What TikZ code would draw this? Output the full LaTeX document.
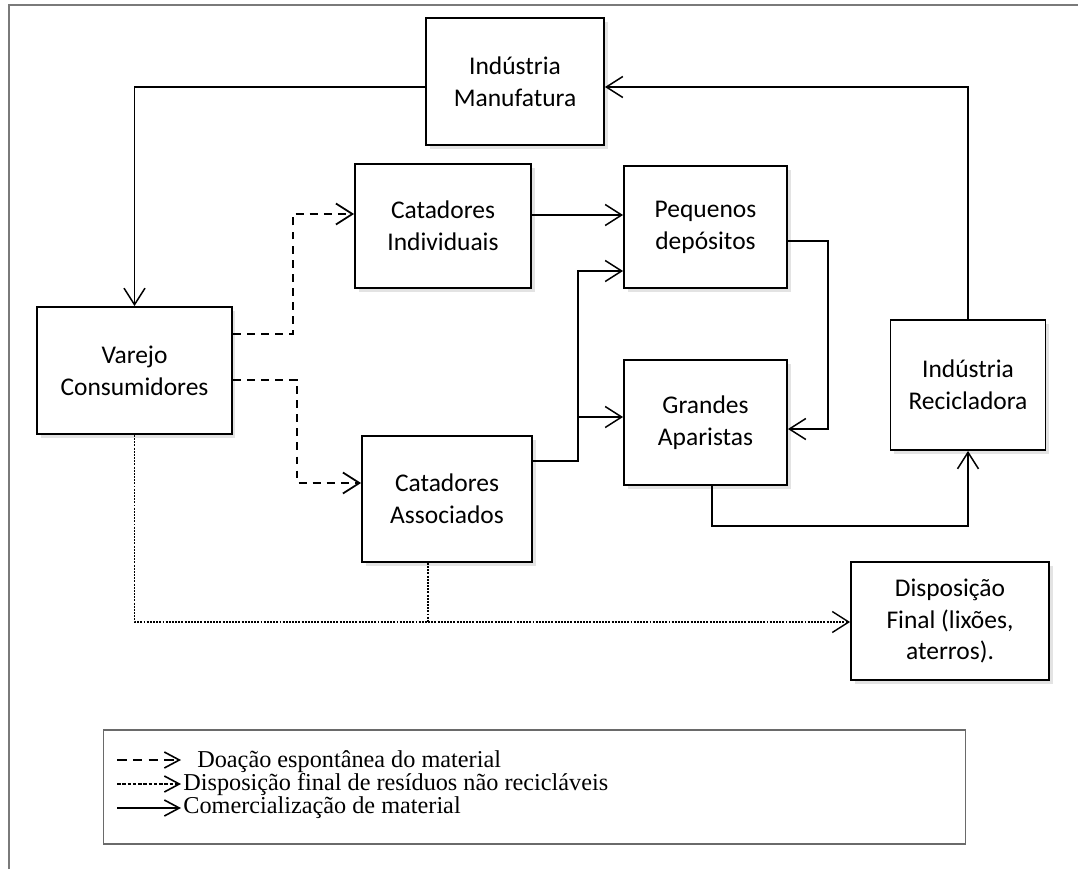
\documentclass[tikz,border=0pt]{standalone}
\usepackage{fontspec}
\usepackage{tikz}
\usetikzlibrary{arrows.meta,shadows}
\setmainfont{Carlito}
\newfontfamily\legendafont{Liberation Serif}
\definecolor{molduracinza}{HTML}{7A7A7A}
\definecolor{legendacinza}{HTML}{6A6A6A}
\tikzset{
  caixa/.style={draw,line width=1.1pt,fill=white,align=center,inner sep=2pt,
    font=\fontsize{14.5}{18.2}\selectfont,
    drop shadow={shadow xshift=2pt,shadow yshift=-2.5pt,opacity=0.22}},
  comerc/.style={line width=0.85pt,-{Straight Barb[length=3.3mm,width=4.2mm]}},
  doacao/.style={comerc,line width=1pt,dash pattern=on 4.5pt off 3.5pt},
  descarte/.style={line width=0.8pt,dash pattern=on 1.1pt off 0.7pt,
    -{Straight Barb[length=3.3mm,width=4.2mm]}},
  amostra/.style={line width=0.9pt,-{Straight Barb[length=3mm,width=3.2mm]}},
  legtexto/.style={anchor=base west,inner sep=0pt,
    font=\legendafont\fontsize{13.8}{15}\selectfont}
}
\begin{document}
\begin{tikzpicture}[x=0.02cm,y=-0.02cm]
\useasboundingbox (0,0) rectangle (1078,869);
\draw[molduracinza,line width=0.9pt] (9,869) -- (9,5) -- (1078,5);

\node[caixa,minimum width=3.56cm,minimum height=2.54cm] (manuf) at (515,81.5) {Indústria\\Manufatura};
\node[caixa,minimum width=3.52cm,minimum height=2.48cm] (catind) at (443,226) {Catadores\\Individuais};
\node[caixa,minimum width=3.26cm,minimum height=2.44cm] (peq) at (705.5,227) {Pequenos\\depósitos};
\node[caixa,minimum width=3.9cm,minimum height=2.54cm] (varejo) at (134.5,370.5) {Varejo\\Consumidores};
\node[caixa,minimum width=3.26cm,minimum height=2.5cm] (grandes) at (705.5,422.5) {Grandes\\Aparistas};
\node[caixa,minimum width=3.1cm,minimum height=2.6cm] (recic) at (968,385) {Indústria\\Recicladora};
\node[caixa,minimum width=3.4cm,minimum height=2.52cm] (assoc) at (447,499) {Catadores\\Associados};
\node[caixa,minimum width=3.96cm,minimum height=2.36cm] (disp) at (950,621) {Disposição\\Final (lixões,\\aterros).};

\draw[comerc] (manuf.west |- 0,87) -| (varejo.north);
\draw[comerc] (recic.north) |- (manuf.east |- 0,87);
\draw[doacao] (varejo.east |- 0,334) -- (293,334) |- (catind.west |- 0,214);
\draw[doacao] (varejo.east |- 0,380) -- (297,380) |- (assoc.west |- 0,483);
\draw[comerc] (catind.east |- 0,215) -- (peq.west |- 0,215);
\coordinate (ramo) at (578,417);
\draw[comerc] (assoc.east |- 0,461) -| (ramo) |- (peq.west |- 0,271);
\draw[comerc] (ramo) -- (grandes.west |- ramo);
\draw[comerc] (peq.east |- 0,241) -- (828,241) |- (grandes.east |- 0,429);
\draw[comerc] (grandes.south -| 712,0) -- (712,526) -| (recic.south);
\draw[descarte] (varejo.south) -- (varejo.south |- 0,622) -- (disp.west |- 0,622);
\draw[descarte,-] (assoc.south -| 428,0) -- (428,622);

\node[draw=legendacinza,line width=0.6pt,minimum width=17.26cm,minimum height=2.28cm] (legenda) at (534.5,787) {};
\draw[amostra,dash pattern=on 5.5pt off 3.5pt] (117,760) -- (181,760);
\node[legtexto] (leg1) at (197,767) {Doação espontânea do material};
\draw[amostra,dash pattern=on 2pt off 1pt] (117,784) -- (181,784);
\node[legtexto] (leg2) at (183,790) {Disposição final de resíduos não recicláveis};
\draw[amostra] (117,808) -- (181,808);
\node[legtexto] (leg3) at (183,813) {Comercialização de material};
\end{tikzpicture}
\end{document}
